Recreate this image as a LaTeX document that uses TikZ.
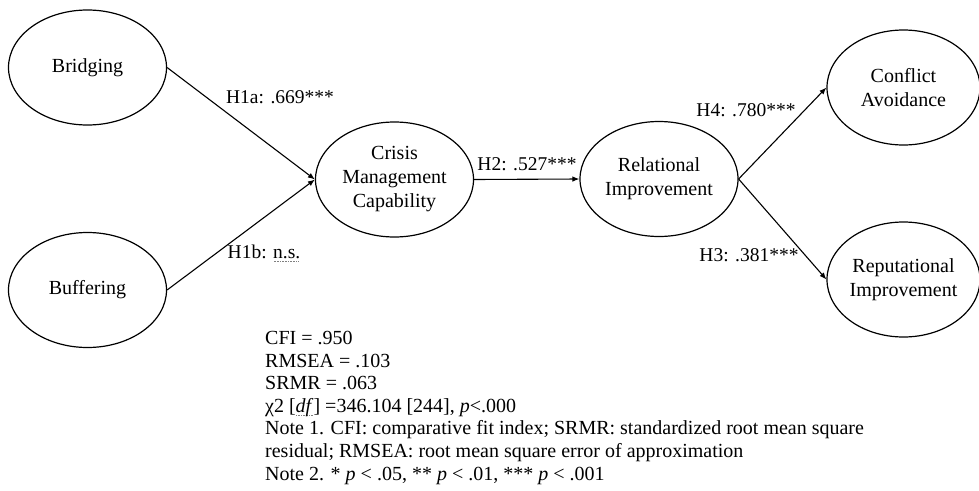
\documentclass[tikz,border=0pt]{standalone}
\usepackage{fontspec}
\setmainfont{Liberation Serif}
\usetikzlibrary{arrows.meta,shapes.geometric}
\newlength\dulw
\newcommand\dotul[1]{\settowidth\dulw{#1}\rlap{\raisebox{-3pt}{\hbox to \dulw{\color{gray}\leaders\hbox to 1.6pt{\hss\rule{0.7pt}{0.7pt}\hss}\hfill}}}#1}
\tikzset{
  latent/.style={draw, ellipse, line width=1.2pt, minimum width=#1, minimum height=115pt, inner sep=0pt, align=center, font=\fontsize{20}{24}\selectfont},
  latent/.default=158pt,
  path/.style={draw, line width=1.1pt, -{Latex[length=7pt,width=5.5pt]}},
  lab/.style={font=\fontsize{19.5}{23}\selectfont, inner sep=0pt},
}
\begin{document}
\begin{tikzpicture}[x=1pt,y=-1pt]
\useasboundingbox (0,0) rectangle (979,490);
\node[latent] (brid) at (87.5,67.5) {Bridging};
\node[latent] (buff) at (87.5,290) {Buffering};
\node[latent] (cmc) at (394.5,179.5) {Crisis\\Management\\Capability};
\node[latent] (rel) at (659,179) {Relational\\Improvement};
\node[latent=153pt] (con) at (903.5,87.5) {Conflict\\Avoidance};
\node[latent=153pt] (rep) at (903.5,279.5) {Reputational\\Improvement};

\draw[path] (brid.east) -- (cmc.west);
\draw[path] (buff.east) -- (cmc.west);
\draw[path] (cmc.east) -- (rel.west);
\draw[path] (rel.east) -- (con.west);
\draw[path] (rel.east) -- (rep.west);

\node[lab] (h1a) at (280,97) {H1a: .669***};
\node[lab] (h1b) at (264,253) {H1b: \dotul{n.s.}};
\node[lab] (h2) at (527,164) {H2: .527***};
\node[lab] (h4) at (746,110) {H4: .780***};
\node[lab] (h3) at (749,255) {H3: .381***};

\node[anchor=north west, inner sep=0pt, align=left, font=\fontsize{20}{22.6}\selectfont] (notes) at (265,331) {%
CFI = .950\\
RMSEA = .103\\
SRMR = .063\\
χ2 [\dotul{\textit{df}}] =346.104 [244], \textit{p}<.000\\
Note 1. CFI: comparative fit index; SRMR: standardized root mean square\\
residual; RMSEA: root mean square error of approximation\\
Note 2. * \textit{p} < .05, ** \textit{p} < .01, *** \textit{p} < .001};
\end{tikzpicture}
\end{document}
